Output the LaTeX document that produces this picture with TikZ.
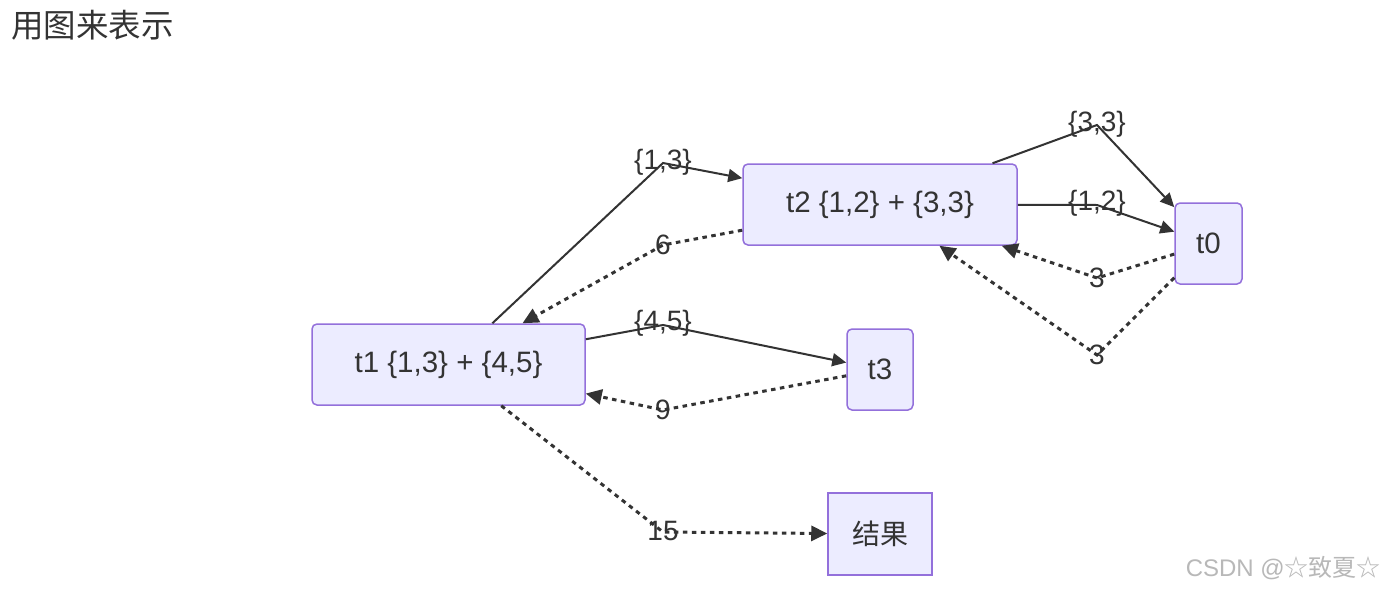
\documentclass[tikz,border=0pt]{standalone}
\usepackage{fontspec}
\setmainfont{Liberation Sans}
\newfontfamily\cjk{Noto Sans CJK SC}
\usetikzlibrary{arrows.meta}
\definecolor{nodefill}{HTML}{ECECFF}
\definecolor{nodeline}{HTML}{9370DB}
\definecolor{ink}{HTML}{333333}
\begin{document}
\begin{tikzpicture}[x=1pt,y=-1pt,
  box/.style={draw=nodeline,fill=nodefill,line width=1.5pt,rounded corners=5pt,
    inner sep=0pt,text=ink,font=\fontsize{29.5}{34}\selectfont},
  sqbox/.style={box,rounded corners=0pt},
  lbl/.style={inner sep=0pt,text=ink,font=\fontsize{28}{32}\selectfont},
  solidedge/.style={draw=ink,line width=2pt,-{Triangle[length=14pt,width=13pt]}},
  dotedge/.style={draw=ink,line width=3pt,dash pattern=on 4.5pt off 4.5pt,-{Triangle[length=16pt,width=15pt]}}]
\useasboundingbox (0,0) rectangle (1385,589);
\fill[white] (0,0) rectangle (1385,589);
% title
\node[anchor=base west,inner sep=0pt,text=ink,font=\cjk\fontsize{32.5}{36}\selectfont] (title) at (11,37) {用图来表示};
% nodes
\node[box,minimum width=274pt,minimum height=81pt] (t2) at (880,204.5) {t2 \{1,2\} + \{3,3\}};
\node[box,minimum width=67pt,minimum height=81pt] (t0) at (1208.5,243.5) {t0};
\node[box,minimum width=273pt,minimum height=81pt] (t1) at (448.5,364.5) {t1 \{1,3\} + \{4,5\}};
\node[box,minimum width=66pt,minimum height=81pt] (t3) at (880,369.5) {t3};
\node[sqbox,minimum width=104pt,minimum height=82pt,font=\cjk\fontsize{28}{32}\selectfont] (res) at (880,534) {结果};
% bend points
\coordinate (b13) at (663,163);
\coordinate (b6) at (663,245);
\coordinate (b33) at (1097,125);
\coordinate (b12) at (1097,205);
\coordinate (b3a) at (1097,278);
\coordinate (b3b) at (1097,355);
\coordinate (b45) at (663,325);
\coordinate (b9) at (663,410);
\coordinate (b15) at (663,532);
% connectors
\draw[solidedge] (t1) -- (b13) -- (t2);
\draw[dotedge] (t2) -- (b6) -- (t1);
\draw[solidedge] (t2) -- (b33) -- (t0);
\draw[solidedge] (t2) -- (b12) -- (t0);
\draw[dotedge] (t0) -- (b3a) -- (t2);
\draw[dotedge] (t0) -- (b3b) -- (t2);
\draw[solidedge] (t1) -- (b45) -- (t3);
\draw[dotedge] (t3) -- (b9) -- (t1);
\draw[dotedge] (t1) -- (b15) -- (res);
% labels
\node[lbl] (l13) at (663,162) {\{1,3\}};
\node[lbl] (l6) at (663,245) {6};
\node[lbl] (l33) at (1097,124) {\{3,3\}};
\node[lbl] (l12) at (1097,203) {\{1,2\}};
\node[lbl] (l3a) at (1097,278) {3};
\node[lbl] (l3b) at (1097,355) {3};
\node[lbl] (l45) at (663,323) {\{4,5\}};
\node[lbl] (l9) at (663,410) {9};
\node[lbl] (l15) at (663,531) {15};
% watermark
\node[anchor=base east,inner sep=0pt,text=black!28,font=\fontsize{24}{28}\selectfont] (wm) at (1381,576) {CSDN @{\cjk ☆致夏☆}};
\end{tikzpicture}
\end{document}
